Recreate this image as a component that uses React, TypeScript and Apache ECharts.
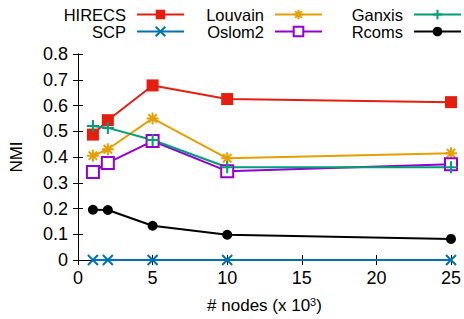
import React, { useEffect, useRef } from "react";
import * as echarts from "echarts";

const nodes = [1, 2, 5, 10, 25];
const hirecs = [0.487, 0.543, 0.678, 0.625, 0.613];
const scp = [0, 0, 0, 0, 0];
const louvain = [0.405, 0.43, 0.55, 0.395, 0.415];
const oslom2 = [0.342, 0.377, 0.462, 0.345, 0.372];
const ganxis = [0.52, 0.513, 0.466, 0.36, 0.36];
const rcoms = [0.195, 0.194, 0.133, 0.098, 0.082];

const xTicks = [0, 5, 10, 15, 20, 25];
const yTicks = [0, 0.1, 0.2, 0.3, 0.4, 0.5, 0.6, 0.7, 0.8];

const FONT = "Liberation Sans, Arial, Helvetica, sans-serif";

const crossPath = "path://M0,0L10,10M10,0L0,10";
const plusPath = "path://M5,0L5,10M0,5L10,5";
const starPath = "path://M5,0L5,10M0,5L10,5M1.5,1.5L8.5,8.5M8.5,1.5L1.5,8.5";

export default function App() {
  const ref = useRef<HTMLDivElement>(null);
  useEffect(() => {
    if (!ref.current) return;
    document.body.style.margin = "0";
    const chart = echarts.init(ref.current, null, { renderer: "svg" });
    const pair = (ys: number[]) => nodes.map((x, i) => [x, ys[i]]);
    const mk = (name: string, ys: number[], color: string, symbol: string, size: number, stroke: boolean, z = 2) => ({
      name,
      type: "line",
      data: pair(ys),
      symbol,
      symbolSize: size,
      showAllSymbol: true,
      z,
      lineStyle: { color, width: 2 },
      itemStyle: stroke
        ? { color, borderColor: color, borderWidth: 2 }
        : { color, borderColor: color, borderWidth: 0 },
    });
    const legendCommon = {
      orient: "vertical",
      align: "right",
      top: 6,
      padding: 0,
      itemWidth: 47,
      itemHeight: 12,
      itemGap: 0,
      textStyle: {
        fontFamily: FONT,
        fontSize: 16.5,
        lineHeight: 17,
        color: "#000",
        padding: [0, 6, 0, 0],
      },
    };
    const axisCommon = {
      axisLine: { show: true, lineStyle: { color: "#000", width: 1 } },
      axisTick: { show: true, inside: true, length: 5, lineStyle: { color: "#000" } },
      splitLine: { show: false },
    };
    chart.setOption({
      animation: false,
      backgroundColor: "#fff",
      grid: { left: 77, right: 11, top: 54, bottom: 54 },
      legend: [
        { ...legendCommon, right: 279, data: ["HIRECS", "SCP"] },
        { ...legendCommon, right: 141, data: ["Louvain", "Oslom2"] },
        { ...legendCommon, right: 2, data: ["Ganxis", "Rcoms"] },
      ],
      xAxis: [
        {
          type: "value",
          min: xTicks[0],
          max: xTicks[xTicks.length - 1],
          interval: 5,
          position: "bottom",
          ...axisCommon,
          axisLabel: { fontFamily: FONT, fontSize: 18, color: "#000", margin: 9 },
          name: "# nodes (x 10{sup|3})",
          nameLocation: "middle",
          nameGap: 36,
          nameTextStyle: {
            fontFamily: FONT,
            fontSize: 17,
            color: "#000",
            rich: { sup: { fontFamily: FONT, fontSize: 11, color: "#000", verticalAlign: "top", padding: [0, 0, 8, 0] } },
          },
        },
        {
          type: "value",
          min: xTicks[0],
          max: xTicks[xTicks.length - 1],
          interval: 5,
          position: "top",
          ...axisCommon,
          axisLabel: { show: false },
        },
      ],
      yAxis: [
        {
          type: "value",
          min: yTicks[0],
          max: yTicks[yTicks.length - 1],
          interval: 0.1,
          position: "left",
          ...axisCommon,
          axisLabel: { fontFamily: FONT, fontSize: 18, color: "#000", margin: 10, formatter: (v: number) => (Math.round(v * 10) / 10).toString() },
          name: "NMI",
          nameLocation: "middle",
          nameGap: 53,
          nameTextStyle: { fontFamily: FONT, fontSize: 17, color: "#000" },
        },
        {
          type: "value",
          min: yTicks[0],
          max: yTicks[yTicks.length - 1],
          interval: 0.1,
          position: "right",
          ...axisCommon,
          axisLabel: { show: false },
        },
      ],
      series: [
        mk("HIRECS", hirecs, "#e51e10", "rect", 12, false),
        mk("SCP", scp, "#0072b2", crossPath, 10, true, 3),
        mk("Louvain", louvain, "#e69f00", starPath, 12, true),
        mk("Oslom2", oslom2, "#9400d3", "emptyRect", 12, true),
        mk("Ganxis", ganxis, "#009e73", plusPath, 12, true),
        mk("Rcoms", rcoms, "#000000", "circle", 10, false),
      ],
    });
    return () => chart.dispose();
  }, []);
  return <div ref={ref} style={{ width: 464, height: 319 }} />;
}
